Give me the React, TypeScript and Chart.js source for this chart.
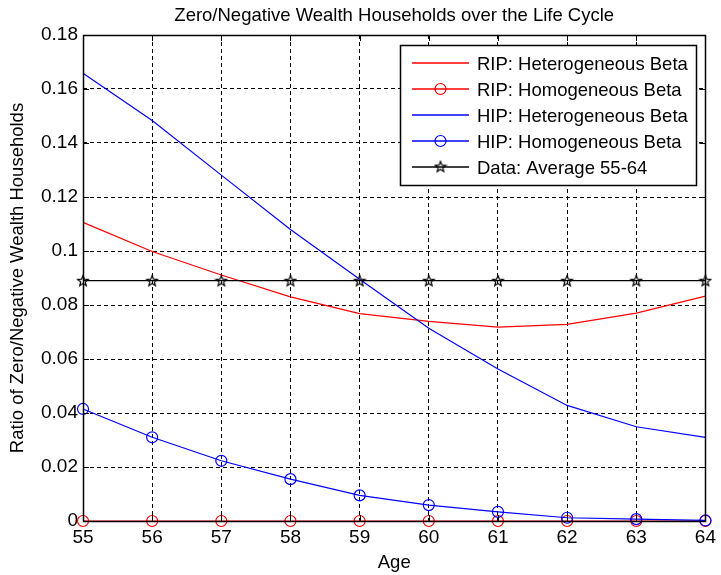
import React, { useEffect, useRef } from "react";
import { Chart, registerables } from "chart.js";

Chart.register(...registerables);

const ages = [55, 56, 57, 58, 59, 60, 61, 62, 63, 64];
const ripHet = [0.1106, 0.0998, 0.0911, 0.083, 0.0768, 0.0739, 0.0718, 0.0728, 0.077, 0.0833];
const ripHom = [0, 0, 0, 0, 0, 0, 0, 0, 0, 0];
const hipHet = [0.1658, 0.1483, 0.1281, 0.108, 0.0895, 0.0714, 0.0563, 0.0428, 0.0349, 0.031];
const hipHom = [0.0415, 0.031, 0.0223, 0.0155, 0.0095, 0.0059, 0.0034, 0.0012, 0.0007, 0.0002];
const dataAvg = [0.089, 0.089, 0.089, 0.089, 0.089, 0.089, 0.089, 0.089, 0.089, 0.089];

const labels = [
  "RIP: Heterogeneous Beta",
  "RIP: Homogeneous Beta",
  "HIP: Heterogeneous Beta",
  "HIP: Homogeneous Beta",
  "Data: Average 55-64",
];
const titleText = "Zero/Negative Wealth Households over the Life Cycle";
const xTitle = "Age";
const yTitle = "Ratio of Zero/Negative Wealth Households";

const FONT = "'Liberation Sans', Arial, sans-serif";
const FS = 18.5;
const TFS = 19;

const seriesColors = ["#ff0000", "#ff0000", "#0000ff", "#0000ff", "#000000"];
const seriesMarkers = ["none", "circle", "none", "circle", "star"];

function makeStar(): HTMLCanvasElement {
  const c = document.createElement("canvas");
  c.width = 14;
  c.height = 14;
  const g = c.getContext("2d")!;
  const cx = 7, cy = 7.4, ro = 5.6, ri = 2.4;
  g.beginPath();
  for (let i = 0; i < 10; i++) {
    const r = i % 2 === 0 ? ro : ri;
    const a = -Math.PI / 2 + (i * Math.PI) / 5;
    const px = cx + r * Math.cos(a);
    const py = cy + r * Math.sin(a);
    if (i === 0) g.moveTo(px, py);
    else g.lineTo(px, py);
  }
  g.closePath();
  g.strokeStyle = "#000";
  g.lineWidth = 1.2;
  g.stroke();
  return c;
}

const toPts = (arr: number[]) => arr.map((y, i) => ({ x: ages[i], y }));

export default function App() {
  const ref = useRef<HTMLCanvasElement | null>(null);
  useEffect(() => {
    const star = makeStar();

    const matlabPlugin = {
      id: "matlab",
      afterDraw(chart: any) {
        const { ctx, chartArea: a, scales } = chart;
        ctx.save();
        ctx.setLineDash([]);
        ctx.strokeStyle = "#000000";
        ctx.lineWidth = 1;
        const tl = 6;
        for (const v of ages) {
          const x = Math.round(scales.x.getPixelForValue(v)) + 0.5;
          ctx.beginPath();
          ctx.moveTo(x, a.bottom);
          ctx.lineTo(x, a.bottom - tl);
          ctx.moveTo(x, a.top);
          ctx.lineTo(x, a.top + tl);
          ctx.stroke();
        }
        for (let k = 0; k <= 9; k++) {
          const y = Math.round(scales.y.getPixelForValue(k * 0.02)) + 0.5;
          ctx.beginPath();
          ctx.moveTo(a.left, y);
          ctx.lineTo(a.left + tl, y);
          ctx.moveTo(a.right, y);
          ctx.lineTo(a.right - tl, y);
          ctx.stroke();
        }
        ctx.lineWidth = 1.5;
        ctx.strokeRect(Math.round(a.left) + 0.5, Math.round(a.top) + 0.5, Math.round(a.right - a.left), Math.round(a.bottom - a.top));
        ctx.restore();

        // title
        ctx.save();
        ctx.fillStyle = "#000000";
        ctx.font = `${FS}px ${FONT}`;
        ctx.textAlign = "center";
        ctx.textBaseline = "middle";
        ctx.fillText(titleText, (a.left + a.right) / 2, 16);
        ctx.restore();

        // legend
        const lx = 400, ly = 45, lw = 296, lh = 140;
        ctx.save();
        ctx.fillStyle = "#ffffff";
        ctx.fillRect(lx, ly, lw, lh);
        ctx.strokeStyle = "#000000";
        ctx.lineWidth = 1.5;
        ctx.strokeRect(lx + 0.5, ly + 0.5, lw, lh);
        ctx.restore();
        const rows = [63, 89, 115, 141, 167];
        for (let i = 0; i < labels.length; i++) {
          const y = rows[i];
          const col = seriesColors[i];
          ctx.save();
          ctx.setLineDash([]);
          ctx.strokeStyle = col;
          ctx.lineWidth = 1.4;
          ctx.beginPath();
          ctx.moveTo(412, y);
          ctx.lineTo(469, y);
          ctx.stroke();
          const mx = 440.5;
          if (seriesMarkers[i] === "circle") {
            ctx.lineWidth = 1.2;
            ctx.beginPath();
            ctx.arc(mx, y, 5.5, 0, Math.PI * 2);
            ctx.stroke();
          } else if (seriesMarkers[i] === "star") {
            ctx.drawImage(star, mx - 7, y - 7.4);
          }
          ctx.fillStyle = "#000000";
          ctx.font = `${FS}px ${FONT}`;
          ctx.textAlign = "left";
          ctx.textBaseline = "middle";
          ctx.fillText(labels[i], 477, y + 1.5);
          ctx.restore();
        }
      },
    };

    const series = [ripHet, ripHom, hipHet, hipHom, dataAvg];
    const datasets = series.map((s, i) => ({
      label: labels[i],
      data: toPts(s),
      borderColor: seriesColors[i],
      backgroundColor: "rgba(0,0,0,0)",
      borderWidth: 1.2,
      pointStyle: seriesMarkers[i] === "star" ? star : "circle",
      pointRadius: seriesMarkers[i] === "none" ? 0 : 5.5,
      pointBorderWidth: 1.2,
      pointBorderColor: seriesColors[i],
      pointBackgroundColor: "rgba(0,0,0,0)",
      tension: 0,
      clip: false as any,
      order: 4 - i,
    }));

    const chart = new Chart(ref.current!, {
      type: "line",
      data: { datasets },
      plugins: [matlabPlugin],
      options: {
        animation: false,
        responsive: false,
        devicePixelRatio: 1,
        layout: { padding: { top: 35, right: 10, left: 0, bottom: 0 } },
        plugins: { legend: { display: false }, tooltip: { enabled: false }, title: { display: false } },
        scales: {
          x: {
            type: "linear",
            min: 55,
            max: 64,
            afterFit: (s: any) => {
              s.height = 54;
            },
            ticks: {
              stepSize: 1,
              color: "#000",
              padding: 5,
              font: { family: FONT, size: TFS },
              maxRotation: 0,
            },
            grid: { color: "#000", lineWidth: 1, drawTicks: false },
            border: { display: false, dash: [4, 3] },
            title: {
              display: true,
              text: xTitle,
              color: "#000",
              font: { family: FONT, size: FS },
              padding: { top: 0, bottom: 1 },
            },
          },
          y: {
            type: "linear",
            min: 0,
            max: 0.18,
            afterFit: (s: any) => {
              s.width = 83;
            },
            ticks: {
              stepSize: 0.02,
              color: "#000",
              padding: 5,
              font: { family: FONT, size: TFS },
              callback: (v: any) => String(parseFloat(Number(v).toFixed(2))),
            },
            grid: { color: "#000", lineWidth: 1, drawTicks: false },
            border: { display: false, dash: [4, 3] },
            title: {
              display: true,
              text: yTitle,
              color: "#000",
              font: { family: FONT, size: FS },
              padding: { top: 7, bottom: 0 },
            },
          },
        },
      },
    });
    return () => chart.destroy();
  }, []);

  return (
    <div style={{ position: "fixed", left: 0, top: 0, width: 721, height: 575, background: "#fff" }}>
      <canvas ref={ref} width={721} height={575} style={{ width: 721, height: 575 }} />
    </div>
  );
}
